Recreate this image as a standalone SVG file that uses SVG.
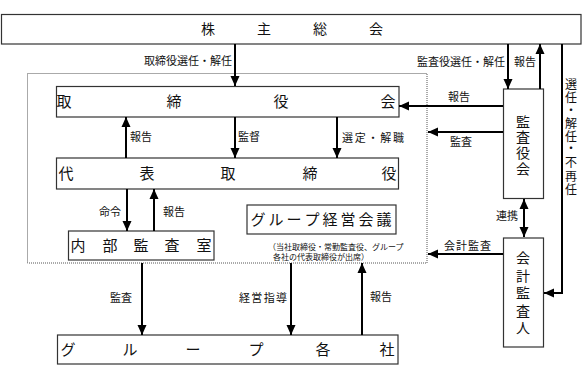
<svg xmlns="http://www.w3.org/2000/svg" width="583" height="379" viewBox="0 0 583 379">
<style>
text{font-family:"Noto Sans CJK JP","Noto Sans",sans-serif;fill:#111}
.box{fill:#fff;stroke:#333;stroke-width:1.2}
.big{font-size:15px;text-anchor:middle}
.mid{font-size:14px;text-anchor:middle}
.lbl{font-size:11px}
.end{text-anchor:end}
.note{font-size:8px}
.con line,.con path{stroke:#000;stroke-width:2;fill:none;marker-end:url(#ah)}
.dbl{marker-start:url(#ah)}
</style>
<defs>
<marker id="ah" viewBox="0 0 10 10" refX="10" refY="5" markerWidth="10" markerHeight="10" markerUnits="userSpaceOnUse" orient="auto-start-reverse">
<path d="M0,0.5 L10,5 L0,9.5 z" fill="#000"/>
</marker>
</defs>
<rect x="27.5" y="73.5" width="399.5" height="189.5" fill="none" stroke="#555" stroke-width="1" stroke-dasharray="1 1"/>
<g id="kabunushi">
<rect class="box" x="1.5" y="14.5" width="579.5" height="29.5"/>
<text class="mid" x="208 264 320 376" y="34">株主総会</text>
</g>
<g id="torishimariyakukai">
<rect class="box" x="56.5" y="86.5" width="342.5" height="30.5"/>
<text class="big" x="64 174 281 388" y="107">取締役会</text>
</g>
<g id="daihyo">
<rect class="box" x="56.5" y="158" width="342" height="31"/>
<text class="big" x="66 147 228 310 389" y="179">代表取締役</text>
</g>
<g id="naibu">
<rect class="box" x="68.5" y="231" width="145.5" height="29"/>
<text class="big" x="78 110 141 172 204" y="251">内部監査室</text>
</g>
<g id="group-kaigi">
<rect class="box" x="247" y="205" width="149" height="29"/>
<text class="big" x="258 276 294 312 330 348 366 384" y="225">グループ経営会議</text>
<text class="note" x="268" y="250">（当社取締役・常勤監査役、グループ</text>
<text class="note" x="273" y="260">各社の代表取締役が出席）</text>
</g>
<g id="group-kakusha">
<rect class="box" x="57.5" y="335" width="340.5" height="29"/>
<text class="big" x="68 130 193 256 323 387" y="355">グループ各社</text>
</g>
<g id="kansayakukai">
<rect class="box" x="503.5" y="89" width="40" height="109.5"/>
<text class="mid" x="523 523 523 523" y="127 142 158 174">監査役会</text>
</g>
<g id="kaikei">
<rect class="box" x="503.5" y="238" width="40" height="109"/>
<text class="mid" x="523 523 523 523 523" y="263 280.5 298 315.5 333">会計監査人</text>
</g>
<g id="connectors" class="con">
<line x1="235" y1="44" x2="235" y2="86"/>
<line x1="508" y1="44" x2="508" y2="89"/>
<line x1="540" y1="89" x2="540" y2="44"/>
<path d="M562,44 V293 H544"/>
<line x1="503" y1="106" x2="399" y2="106"/>
<line x1="503" y1="132" x2="428" y2="132"/>
<line class="dbl" x1="524" y1="199" x2="524" y2="237"/>
<line x1="503" y1="254" x2="428" y2="254"/>
<line x1="126" y1="158" x2="126" y2="117"/>
<line x1="235" y1="117" x2="235" y2="158"/>
<line x1="337" y1="117" x2="337" y2="158"/>
<line x1="127" y1="189" x2="127" y2="231"/>
<line x1="154" y1="231" x2="154" y2="189"/>
<line x1="142" y1="263" x2="142" y2="335"/>
<line x1="291" y1="263" x2="291" y2="335"/>
<line x1="362" y1="335" x2="362" y2="263"/>
</g>
<g id="labels">
<text class="lbl end" x="232" y="65">取締役選任・解任</text>
<text class="lbl end" x="505" y="66">監査役選任・解任</text>
<text class="lbl" x="514" y="66">報告</text>
<text class="lbl" x="448" y="101">報告</text>
<text class="lbl" x="450" y="146">監査</text>
<text class="lbl" x="130" y="141">報告</text>
<text class="lbl" x="238" y="141">監督</text>
<text class="lbl" x="342" y="142" textLength="62" lengthAdjust="spacing">選定・解職</text>
<text class="lbl" x="99" y="216">命令</text>
<text class="lbl" x="163" y="216">報告</text>
<text class="lbl end" x="518" y="220">連携</text>
<text class="lbl" x="444" y="250" textLength="47" lengthAdjust="spacing">会計監査</text>
<text class="lbl" x="110" y="302">監査</text>
<text class="lbl" x="239" y="302" textLength="48" lengthAdjust="spacing">経営指導</text>
<text class="lbl" x="370" y="301">報告</text>
<text style="font-size:12px;text-anchor:middle" x="571 571 571 571 571 571 571 571 571" y="89 102 115 128 141 153 167 181 194">選任・解任・不再任</text>
</g>
</svg>
